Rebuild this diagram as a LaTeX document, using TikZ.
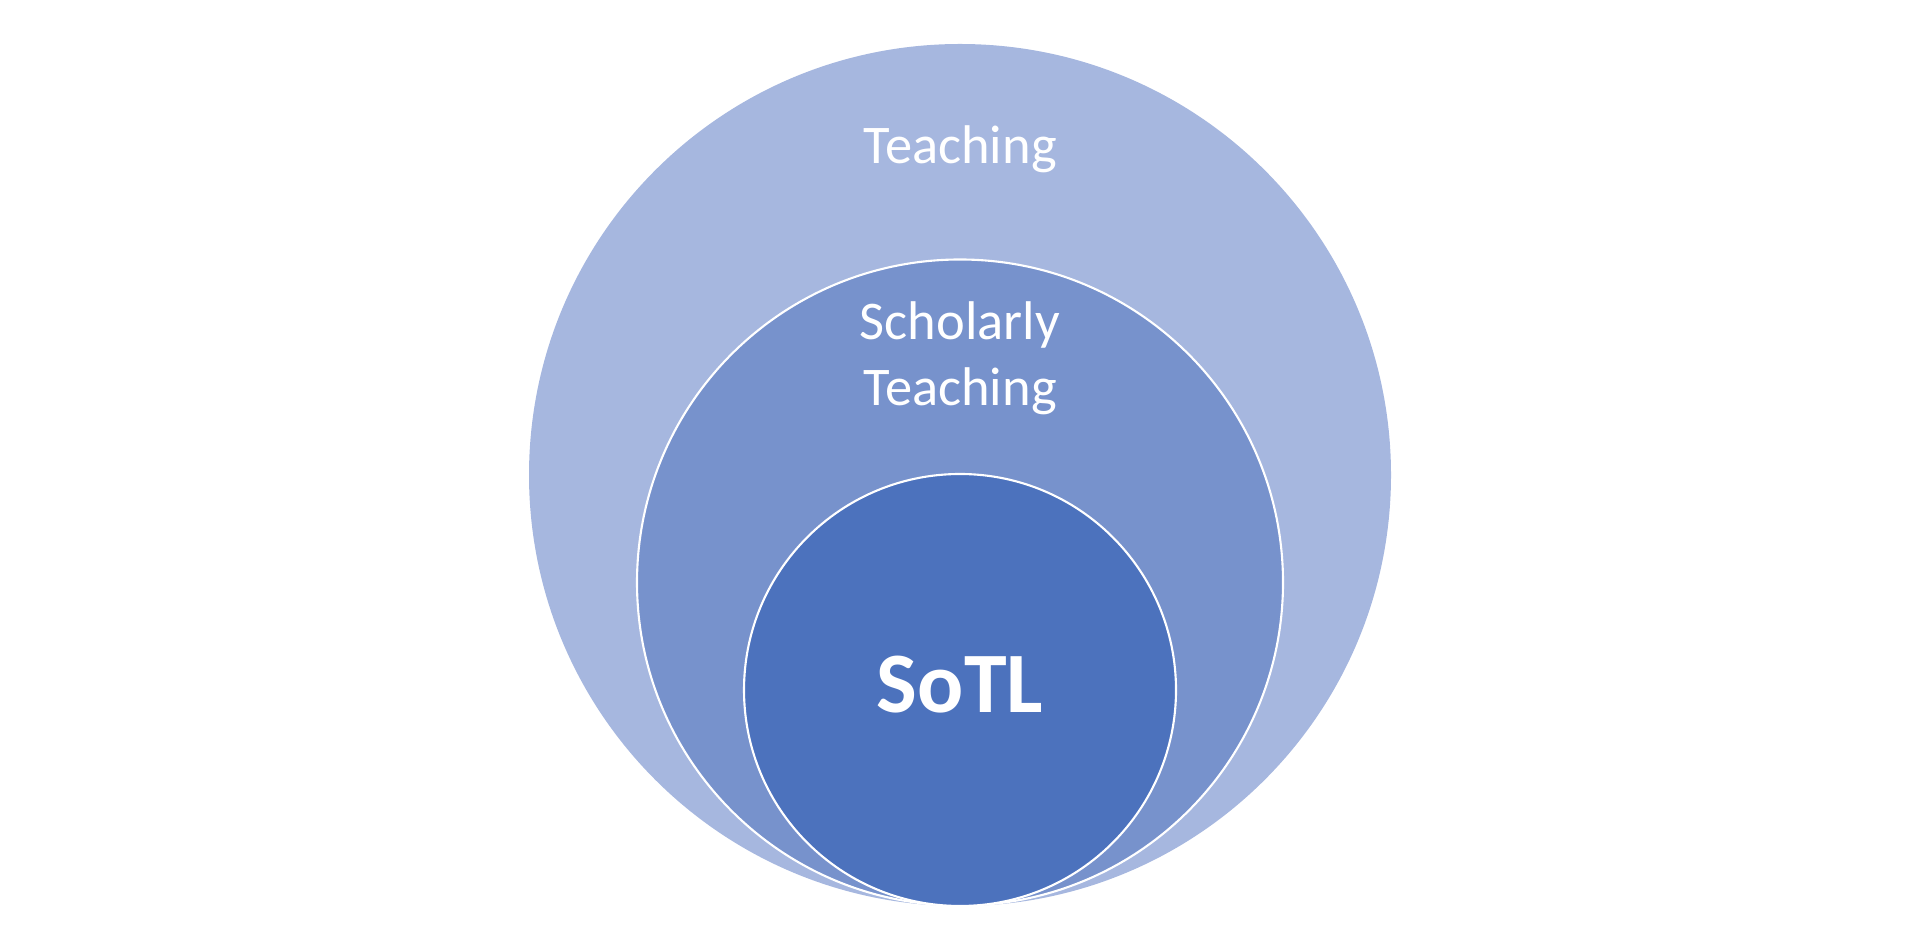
\documentclass[tikz,border=0pt]{standalone}
\usepackage{fontspec}
\setmainfont{Carlito}
\usetikzlibrary{positioning, calc}
\definecolor{outerblue}{HTML}{A6B7DF}
\definecolor{midblue}{HTML}{7792CC}
\definecolor{innerblue}{HTML}{4C72BD}
\tikzstyle{ring} = [
    circle, 
    inner sep=0pt, 
    draw=white, 
    line width=0.6pt
]
\tikzstyle{label} = [
    text=white, 
    align=center, 
    anchor=base, 
    font=\fontsize{15.5}{19}\selectfont
]

\begin{document}
\begin{tikzpicture}
    \useasboundingbox (0,0) rectangle (19.2,9.47);
    % Nested circles, all touching at the bottom
    \node (teaching) [ring, draw=none, fill=outerblue, minimum size=8.62cm] at (9.6,4.72) {};
    \node (scholarly) [ring, fill=midblue, minimum size=6.46cm] at (9.6,3.645) {};
    \node (sotl) [ring, fill=innerblue, minimum size=4.32cm] at (9.6,2.57) {};
    
    % Labels
    \node (teaching_text) [label] at ($(teaching.north)+(0,-1.21)$) {Teaching};
    \node (scholarly_text) [label] at ($(scholarly.north)+(0,-1.475)$) {Scholarly\\Teaching};
    \node (sotl_text) [label, font=\fontsize{24.5}{29}\selectfont\bfseries] at ($(sotl.center)+(0,-0.23)$) {SoTL};
\end{tikzpicture}
\end{document}
